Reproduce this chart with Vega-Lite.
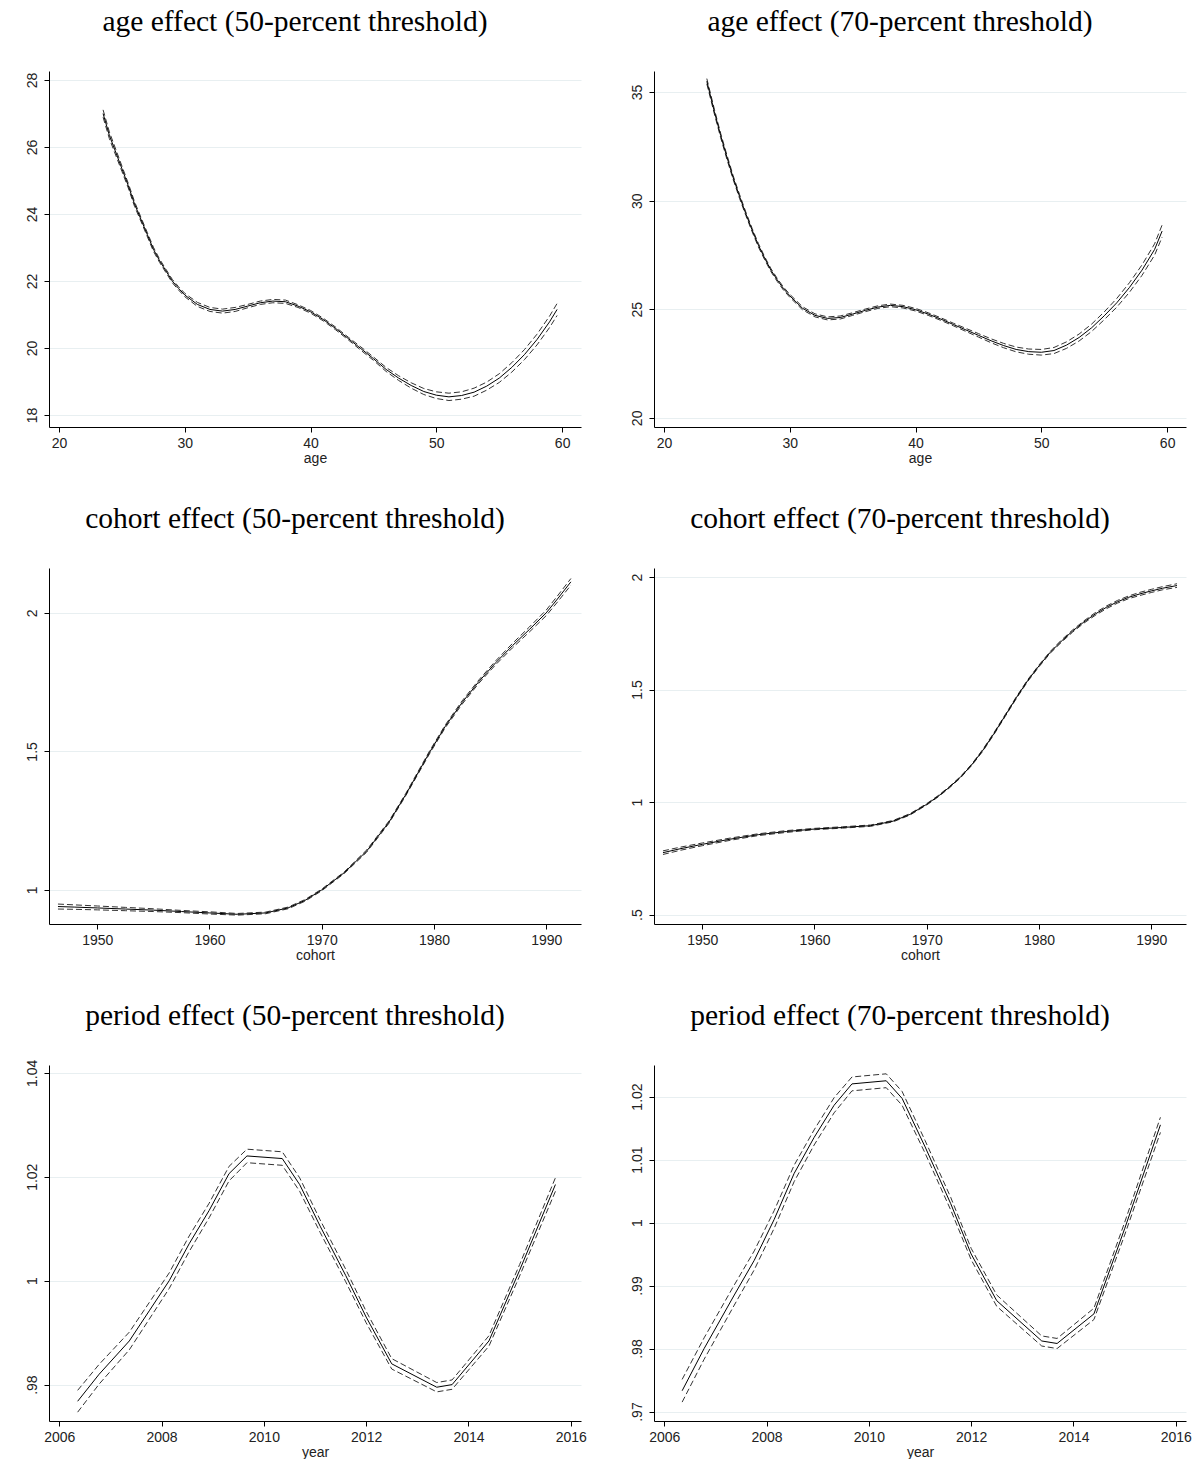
{
  "$schema": "https://vega.github.io/schema/vega-lite/v6.json",
  "background": "white",
  "padding": {"left": 24, "top": 6, "right": 0, "bottom": 0},
  "datasets": {
    "p1": [
      {"x": 23.5, "est": 27.00, "lo": 26.89, "hi": 27.11},
      {"x": 24.0, "est": 26.35, "lo": 26.25, "hi": 26.45},
      {"x": 24.5, "est": 25.85, "lo": 25.76, "hi": 25.94},
      {"x": 25.0, "est": 25.35, "lo": 25.27, "hi": 25.43},
      {"x": 25.5, "est": 24.85, "lo": 24.78, "hi": 24.92},
      {"x": 26.0, "est": 24.30, "lo": 24.23, "hi": 24.37},
      {"x": 26.5, "est": 23.85, "lo": 23.79, "hi": 23.91},
      {"x": 27.0, "est": 23.40, "lo": 23.34, "hi": 23.46},
      {"x": 27.5, "est": 22.95, "lo": 22.89, "hi": 23.01},
      {"x": 28.0, "est": 22.60, "lo": 22.55, "hi": 22.65},
      {"x": 28.5, "est": 22.30, "lo": 22.25, "hi": 22.35},
      {"x": 29.0, "est": 22.00, "lo": 21.95, "hi": 22.05},
      {"x": 29.5, "est": 21.78, "lo": 21.73, "hi": 21.83},
      {"x": 30.0, "est": 21.58, "lo": 21.53, "hi": 21.63},
      {"x": 31.0, "est": 21.30, "lo": 21.24, "hi": 21.36},
      {"x": 32.0, "est": 21.15, "lo": 21.09, "hi": 21.21},
      {"x": 33.0, "est": 21.10, "lo": 21.04, "hi": 21.16},
      {"x": 34.0, "est": 21.15, "lo": 21.09, "hi": 21.21},
      {"x": 35.0, "est": 21.25, "lo": 21.20, "hi": 21.30},
      {"x": 36.0, "est": 21.35, "lo": 21.30, "hi": 21.40},
      {"x": 37.0, "est": 21.40, "lo": 21.35, "hi": 21.45},
      {"x": 38.0, "est": 21.38, "lo": 21.33, "hi": 21.43},
      {"x": 39.0, "est": 21.25, "lo": 21.21, "hi": 21.29},
      {"x": 40.0, "est": 21.08, "lo": 21.04, "hi": 21.12},
      {"x": 41.0, "est": 20.85, "lo": 20.81, "hi": 20.89},
      {"x": 42.0, "est": 20.58, "lo": 20.54, "hi": 20.62},
      {"x": 43.0, "est": 20.28, "lo": 20.24, "hi": 20.32},
      {"x": 44.0, "est": 19.98, "lo": 19.93, "hi": 20.03},
      {"x": 45.0, "est": 19.68, "lo": 19.63, "hi": 19.73},
      {"x": 46.0, "est": 19.36, "lo": 19.30, "hi": 19.42},
      {"x": 47.0, "est": 19.10, "lo": 19.03, "hi": 19.17},
      {"x": 48.0, "est": 18.88, "lo": 18.80, "hi": 18.96},
      {"x": 49.0, "est": 18.70, "lo": 18.61, "hi": 18.79},
      {"x": 50.0, "est": 18.59, "lo": 18.49, "hi": 18.69},
      {"x": 51.0, "est": 18.54, "lo": 18.43, "hi": 18.65},
      {"x": 52.0, "est": 18.58, "lo": 18.47, "hi": 18.69},
      {"x": 53.0, "est": 18.68, "lo": 18.56, "hi": 18.80},
      {"x": 54.0, "est": 18.86, "lo": 18.74, "hi": 18.98},
      {"x": 55.0, "est": 19.10, "lo": 18.97, "hi": 19.23},
      {"x": 56.0, "est": 19.42, "lo": 19.28, "hi": 19.56},
      {"x": 57.0, "est": 19.80, "lo": 19.65, "hi": 19.95},
      {"x": 58.0, "est": 20.25, "lo": 20.09, "hi": 20.41},
      {"x": 59.0, "est": 20.78, "lo": 20.61, "hi": 20.95},
      {"x": 59.6, "est": 21.15, "lo": 20.97, "hi": 21.33}
    ],
    "p2": [
      {"x": 23.4, "est": 35.50, "lo": 35.38, "hi": 35.62},
      {"x": 24.0, "est": 34.10, "lo": 33.99, "hi": 34.21},
      {"x": 24.5, "est": 33.00, "lo": 32.90, "hi": 33.10},
      {"x": 25.0, "est": 32.00, "lo": 31.90, "hi": 32.10},
      {"x": 25.5, "est": 31.05, "lo": 30.96, "hi": 31.14},
      {"x": 26.0, "est": 30.20, "lo": 30.11, "hi": 30.29},
      {"x": 26.5, "est": 29.40, "lo": 29.32, "hi": 29.48},
      {"x": 27.0, "est": 28.65, "lo": 28.57, "hi": 28.73},
      {"x": 27.5, "est": 27.95, "lo": 27.87, "hi": 28.03},
      {"x": 28.0, "est": 27.35, "lo": 27.28, "hi": 27.42},
      {"x": 28.5, "est": 26.80, "lo": 26.73, "hi": 26.87},
      {"x": 29.0, "est": 26.35, "lo": 26.28, "hi": 26.42},
      {"x": 29.5, "est": 25.95, "lo": 25.88, "hi": 26.02},
      {"x": 30.0, "est": 25.62, "lo": 25.55, "hi": 25.69},
      {"x": 31.0, "est": 25.05, "lo": 24.98, "hi": 25.12},
      {"x": 32.0, "est": 24.72, "lo": 24.65, "hi": 24.79},
      {"x": 33.0, "est": 24.58, "lo": 24.51, "hi": 24.65},
      {"x": 34.0, "est": 24.62, "lo": 24.55, "hi": 24.69},
      {"x": 35.0, "est": 24.78, "lo": 24.72, "hi": 24.84},
      {"x": 36.0, "est": 24.95, "lo": 24.89, "hi": 25.01},
      {"x": 37.0, "est": 25.10, "lo": 25.04, "hi": 25.16},
      {"x": 38.0, "est": 25.18, "lo": 25.12, "hi": 25.24},
      {"x": 39.0, "est": 25.12, "lo": 25.06, "hi": 25.18},
      {"x": 40.0, "est": 24.98, "lo": 24.92, "hi": 25.04},
      {"x": 41.0, "est": 24.78, "lo": 24.72, "hi": 24.84},
      {"x": 42.0, "est": 24.55, "lo": 24.49, "hi": 24.61},
      {"x": 43.0, "est": 24.30, "lo": 24.24, "hi": 24.36},
      {"x": 44.0, "est": 24.05, "lo": 23.98, "hi": 24.12},
      {"x": 45.0, "est": 23.80, "lo": 23.72, "hi": 23.88},
      {"x": 46.0, "est": 23.55, "lo": 23.46, "hi": 23.64},
      {"x": 47.0, "est": 23.33, "lo": 23.23, "hi": 23.43},
      {"x": 48.0, "est": 23.15, "lo": 23.04, "hi": 23.26},
      {"x": 49.0, "est": 23.05, "lo": 22.93, "hi": 23.17},
      {"x": 50.0, "est": 23.02, "lo": 22.89, "hi": 23.15},
      {"x": 51.0, "est": 23.10, "lo": 22.96, "hi": 23.24},
      {"x": 52.0, "est": 23.35, "lo": 23.20, "hi": 23.50},
      {"x": 53.0, "est": 23.70, "lo": 23.54, "hi": 23.86},
      {"x": 54.0, "est": 24.15, "lo": 23.98, "hi": 24.32},
      {"x": 55.0, "est": 24.70, "lo": 24.52, "hi": 24.88},
      {"x": 56.0, "est": 25.30, "lo": 25.10, "hi": 25.50},
      {"x": 57.0, "est": 26.00, "lo": 25.78, "hi": 26.22},
      {"x": 58.0, "est": 26.80, "lo": 26.56, "hi": 27.04},
      {"x": 59.0, "est": 27.75, "lo": 27.49, "hi": 28.01},
      {"x": 59.6, "est": 28.60, "lo": 28.32, "hi": 28.88}
    ],
    "p3": [
      {"x": 1946.5, "est": 0.940, "lo": 0.931, "hi": 0.949},
      {"x": 1948.0, "est": 0.938, "lo": 0.930, "hi": 0.946},
      {"x": 1950.0, "est": 0.935, "lo": 0.928, "hi": 0.942},
      {"x": 1952.5, "est": 0.931, "lo": 0.925, "hi": 0.937},
      {"x": 1955.0, "est": 0.927, "lo": 0.922, "hi": 0.932},
      {"x": 1957.5, "est": 0.922, "lo": 0.918, "hi": 0.926},
      {"x": 1960.0, "est": 0.917, "lo": 0.913, "hi": 0.921},
      {"x": 1962.5, "est": 0.912, "lo": 0.909, "hi": 0.915},
      {"x": 1965.0, "est": 0.917, "lo": 0.914, "hi": 0.920},
      {"x": 1967.0, "est": 0.935, "lo": 0.932, "hi": 0.938},
      {"x": 1968.5, "est": 0.962, "lo": 0.959, "hi": 0.965},
      {"x": 1970.0, "est": 1.000, "lo": 0.997, "hi": 1.003},
      {"x": 1972.0, "est": 1.062, "lo": 1.059, "hi": 1.065},
      {"x": 1974.0, "est": 1.140, "lo": 1.136, "hi": 1.144},
      {"x": 1976.0, "est": 1.245, "lo": 1.241, "hi": 1.249},
      {"x": 1977.5, "est": 1.345, "lo": 1.341, "hi": 1.349},
      {"x": 1979.6, "est": 1.496, "lo": 1.491, "hi": 1.501},
      {"x": 1981.0, "est": 1.590, "lo": 1.585, "hi": 1.595},
      {"x": 1982.5, "est": 1.676, "lo": 1.670, "hi": 1.682},
      {"x": 1984.0, "est": 1.752, "lo": 1.746, "hi": 1.758},
      {"x": 1985.5, "est": 1.820, "lo": 1.813, "hi": 1.827},
      {"x": 1987.0, "est": 1.882, "lo": 1.874, "hi": 1.890},
      {"x": 1988.5, "est": 1.940, "lo": 1.931, "hi": 1.949},
      {"x": 1990.0, "est": 2.000, "lo": 1.990, "hi": 2.010},
      {"x": 1991.0, "est": 2.050, "lo": 2.039, "hi": 2.061},
      {"x": 1992.2, "est": 2.112, "lo": 2.100, "hi": 2.124}
    ],
    "p4": [
      {"x": 1946.5, "est": 0.775, "lo": 0.767, "hi": 0.783},
      {"x": 1948.0, "est": 0.792, "lo": 0.785, "hi": 0.799},
      {"x": 1950.0, "est": 0.812, "lo": 0.806, "hi": 0.818},
      {"x": 1952.5, "est": 0.835, "lo": 0.830, "hi": 0.840},
      {"x": 1955.0, "est": 0.855, "lo": 0.851, "hi": 0.859},
      {"x": 1957.5, "est": 0.869, "lo": 0.865, "hi": 0.873},
      {"x": 1960.0, "est": 0.880, "lo": 0.877, "hi": 0.883},
      {"x": 1962.5, "est": 0.887, "lo": 0.884, "hi": 0.890},
      {"x": 1965.0, "est": 0.895, "lo": 0.892, "hi": 0.898},
      {"x": 1967.0, "est": 0.915, "lo": 0.912, "hi": 0.918},
      {"x": 1968.5, "est": 0.945, "lo": 0.942, "hi": 0.948},
      {"x": 1970.0, "est": 0.990, "lo": 0.987, "hi": 0.993},
      {"x": 1971.0, "est": 1.025, "lo": 1.022, "hi": 1.028},
      {"x": 1972.0, "est": 1.065, "lo": 1.062, "hi": 1.068},
      {"x": 1973.0, "est": 1.110, "lo": 1.107, "hi": 1.113},
      {"x": 1974.0, "est": 1.165, "lo": 1.162, "hi": 1.168},
      {"x": 1975.0, "est": 1.230, "lo": 1.226, "hi": 1.234},
      {"x": 1976.0, "est": 1.305, "lo": 1.301, "hi": 1.309},
      {"x": 1977.0, "est": 1.385, "lo": 1.381, "hi": 1.389},
      {"x": 1978.0, "est": 1.465, "lo": 1.461, "hi": 1.469},
      {"x": 1979.0, "est": 1.540, "lo": 1.536, "hi": 1.544},
      {"x": 1980.0, "est": 1.605, "lo": 1.601, "hi": 1.609},
      {"x": 1981.0, "est": 1.665, "lo": 1.661, "hi": 1.669},
      {"x": 1982.0, "est": 1.715, "lo": 1.710, "hi": 1.720},
      {"x": 1983.0, "est": 1.760, "lo": 1.755, "hi": 1.765},
      {"x": 1984.0, "est": 1.800, "lo": 1.795, "hi": 1.805},
      {"x": 1985.0, "est": 1.835, "lo": 1.829, "hi": 1.841},
      {"x": 1986.0, "est": 1.865, "lo": 1.859, "hi": 1.871},
      {"x": 1987.0, "est": 1.890, "lo": 1.884, "hi": 1.896},
      {"x": 1988.0, "est": 1.910, "lo": 1.904, "hi": 1.916},
      {"x": 1989.0, "est": 1.925, "lo": 1.918, "hi": 1.932},
      {"x": 1990.0, "est": 1.938, "lo": 1.931, "hi": 1.945},
      {"x": 1991.0, "est": 1.950, "lo": 1.943, "hi": 1.957},
      {"x": 1992.3, "est": 1.962, "lo": 1.954, "hi": 1.970}
    ],
    "p5": [
      {"x": 2006.36, "est": 0.9768, "lo": 0.9747, "hi": 0.9789},
      {"x": 2006.78, "est": 0.9820, "lo": 0.9801, "hi": 0.9839},
      {"x": 2007.37, "est": 0.9884, "lo": 0.9867, "hi": 0.9901},
      {"x": 2007.76, "est": 0.9942, "lo": 0.9926, "hi": 0.9958},
      {"x": 2008.15, "est": 1.0000, "lo": 0.9985, "hi": 1.0015},
      {"x": 2008.54, "est": 1.0071, "lo": 1.0056, "hi": 1.0086},
      {"x": 2008.93, "est": 1.0135, "lo": 1.0121, "hi": 1.0149},
      {"x": 2009.32, "est": 1.0206, "lo": 1.0192, "hi": 1.0220},
      {"x": 2009.67, "est": 1.0240, "lo": 1.0227, "hi": 1.0253},
      {"x": 2010.36, "est": 1.0235, "lo": 1.0222, "hi": 1.0248},
      {"x": 2010.70, "est": 1.0185, "lo": 1.0172, "hi": 1.0198},
      {"x": 2011.10, "est": 1.0105, "lo": 1.0093, "hi": 1.0117},
      {"x": 2011.60, "est": 1.0010, "lo": 0.9998, "hi": 1.0022},
      {"x": 2012.00, "est": 0.9930, "lo": 0.9919, "hi": 0.9941},
      {"x": 2012.50, "est": 0.9840, "lo": 0.9830, "hi": 0.9850},
      {"x": 2013.38, "est": 0.9795, "lo": 0.9786, "hi": 0.9804},
      {"x": 2013.68, "est": 0.9800, "lo": 0.9791, "hi": 0.9809},
      {"x": 2014.40, "est": 0.9884, "lo": 0.9874, "hi": 0.9894},
      {"x": 2015.00, "est": 1.0020, "lo": 1.0009, "hi": 1.0031},
      {"x": 2015.70, "est": 1.0185, "lo": 1.0172, "hi": 1.0198}
    ],
    "p6": [
      {"x": 2006.35, "est": 0.9733, "lo": 0.9715, "hi": 0.9751},
      {"x": 2006.78, "est": 0.9800, "lo": 0.9783, "hi": 0.9817},
      {"x": 2007.37, "est": 0.9885, "lo": 0.9869, "hi": 0.9901},
      {"x": 2007.76, "est": 0.9940, "lo": 0.9925, "hi": 0.9955},
      {"x": 2008.15, "est": 1.0005, "lo": 0.9991, "hi": 1.0019},
      {"x": 2008.54, "est": 1.0078, "lo": 1.0065, "hi": 1.0091},
      {"x": 2008.93, "est": 1.0135, "lo": 1.0123, "hi": 1.0147},
      {"x": 2009.32, "est": 1.0186, "lo": 1.0174, "hi": 1.0198},
      {"x": 2009.67, "est": 1.0220, "lo": 1.0209, "hi": 1.0231},
      {"x": 2010.34, "est": 1.0225, "lo": 1.0214, "hi": 1.0236},
      {"x": 2010.65, "est": 1.0197, "lo": 1.0186, "hi": 1.0208},
      {"x": 2011.10, "est": 1.0120, "lo": 1.0110, "hi": 1.0130},
      {"x": 2011.60, "est": 1.0030, "lo": 1.0020, "hi": 1.0040},
      {"x": 2012.00, "est": 0.9950, "lo": 0.9941, "hi": 0.9959},
      {"x": 2012.50, "est": 0.9876, "lo": 0.9867, "hi": 0.9885},
      {"x": 2013.38, "est": 0.9812, "lo": 0.9804, "hi": 0.9820},
      {"x": 2013.68, "est": 0.9808, "lo": 0.9800, "hi": 0.9816},
      {"x": 2014.40, "est": 0.9855, "lo": 0.9846, "hi": 0.9864},
      {"x": 2015.00, "est": 0.9990, "lo": 0.9980, "hi": 1.0000},
      {"x": 2015.70, "est": 1.0155, "lo": 1.0143, "hi": 1.0167}
    ]
  },
  "columns": 2,
  "spacing": {"row": 141, "column": 73},
  "bounds": "flush",
  "concat": [
    {
      "title": {"text": "age effect (50-percent threshold)"},
      "width": 532, "height": 356,
      "data": {"name": "p1"},
      "encoding": {"x": {"field": "x", "type": "quantitative", "scale": {"domain": [19.2, 61.5], "nice": false, "zero": false}, "axis": {"values": [20, 30, 40, 50, 60], "title": "age"}}},
      "layer": [
        {"mark": {"type": "line", "color": "#333", "strokeWidth": 1, "strokeDash": [6, 3]}, "encoding": {"y": {"field": "lo", "type": "quantitative", "scale": {"domain": [17.64, 28.27], "nice": false, "zero": false}, "axis": {"values": [18, 20, 22, 24, 26, 28], "title": null}}}},
        {"mark": {"type": "line", "color": "#333", "strokeWidth": 1, "strokeDash": [6, 3]}, "encoding": {"y": {"field": "hi", "type": "quantitative", "scale": {"domain": [17.64, 28.27], "nice": false, "zero": false}}}},
        {"mark": {"type": "line", "color": "black", "strokeWidth": 1}, "encoding": {"y": {"field": "est", "type": "quantitative", "scale": {"domain": [17.64, 28.27], "nice": false, "zero": false}}}}
      ]
    },
    {
      "title": {"text": "age effect (70-percent threshold)"},
      "width": 532, "height": 356,
      "data": {"name": "p2"},
      "encoding": {"x": {"field": "x", "type": "quantitative", "scale": {"domain": [19.2, 61.5], "nice": false, "zero": false}, "axis": {"values": [20, 30, 40, 50, 60], "title": "age"}}},
      "layer": [
        {"mark": {"type": "line", "color": "#333", "strokeWidth": 1, "strokeDash": [6, 3]}, "encoding": {"y": {"field": "lo", "type": "quantitative", "scale": {"domain": [19.58, 35.97], "nice": false, "zero": false}, "axis": {"values": [20, 25, 30, 35], "title": null}}}},
        {"mark": {"type": "line", "color": "#333", "strokeWidth": 1, "strokeDash": [6, 3]}, "encoding": {"y": {"field": "hi", "type": "quantitative", "scale": {"domain": [19.58, 35.97], "nice": false, "zero": false}}}},
        {"mark": {"type": "line", "color": "black", "strokeWidth": 1}, "encoding": {"y": {"field": "est", "type": "quantitative", "scale": {"domain": [19.58, 35.97], "nice": false, "zero": false}}}}
      ]
    },
    {
      "title": {"text": "cohort effect (50-percent threshold)"},
      "width": 532, "height": 356,
      "data": {"name": "p3"},
      "encoding": {"x": {"field": "x", "type": "quantitative", "scale": {"domain": [1945.7, 1993.1], "nice": false, "zero": false}, "axis": {"values": [1950, 1960, 1970, 1980, 1990], "format": "d", "title": "cohort"}}},
      "layer": [
        {"mark": {"type": "line", "color": "#333", "strokeWidth": 1, "strokeDash": [6, 3]}, "encoding": {"y": {"field": "lo", "type": "quantitative", "scale": {"domain": [0.877, 2.162], "nice": false, "zero": false}, "axis": {"values": [1, 1.5, 2], "title": null, "labelExpr": "datum.value < 1 ? slice(format(datum.value, '.2~f'), 1) : format(datum.value, '~g')"}}}},
        {"mark": {"type": "line", "color": "#333", "strokeWidth": 1, "strokeDash": [6, 3]}, "encoding": {"y": {"field": "hi", "type": "quantitative", "scale": {"domain": [0.877, 2.162], "nice": false, "zero": false}}}},
        {"mark": {"type": "line", "color": "black", "strokeWidth": 1}, "encoding": {"y": {"field": "est", "type": "quantitative", "scale": {"domain": [0.877, 2.162], "nice": false, "zero": false}}}}
      ]
    },
    {
      "title": {"text": "cohort effect (70-percent threshold)"},
      "width": 532, "height": 356,
      "data": {"name": "p4"},
      "encoding": {"x": {"field": "x", "type": "quantitative", "scale": {"domain": [1945.7, 1993.1], "nice": false, "zero": false}, "axis": {"values": [1950, 1960, 1970, 1980, 1990], "format": "d", "title": "cohort"}}},
      "layer": [
        {"mark": {"type": "line", "color": "#333", "strokeWidth": 1, "strokeDash": [6, 3]}, "encoding": {"y": {"field": "lo", "type": "quantitative", "scale": {"domain": [0.458, 2.04], "nice": false, "zero": false}, "axis": {"values": [0.5, 1, 1.5, 2], "title": null, "labelExpr": "datum.value < 1 ? slice(format(datum.value, '.2~f'), 1) : format(datum.value, '~g')"}}}},
        {"mark": {"type": "line", "color": "#333", "strokeWidth": 1, "strokeDash": [6, 3]}, "encoding": {"y": {"field": "hi", "type": "quantitative", "scale": {"domain": [0.458, 2.04], "nice": false, "zero": false}}}},
        {"mark": {"type": "line", "color": "black", "strokeWidth": 1}, "encoding": {"y": {"field": "est", "type": "quantitative", "scale": {"domain": [0.458, 2.04], "nice": false, "zero": false}}}}
      ]
    },
    {
      "title": {"text": "period effect (50-percent threshold)", "offset": 28},
      "width": 532, "height": 356,
      "data": {"name": "p5"},
      "encoding": {"x": {"field": "x", "type": "quantitative", "scale": {"domain": [2005.8, 2016.2], "nice": false, "zero": false}, "axis": {"values": [2006, 2008, 2010, 2012, 2014, 2016], "format": "d", "title": "year"}}},
      "layer": [
        {"mark": {"type": "line", "color": "#333", "strokeWidth": 1, "strokeDash": [6, 3]}, "encoding": {"y": {"field": "lo", "type": "quantitative", "scale": {"domain": [0.973, 1.0415], "nice": false, "zero": false}, "axis": {"values": [0.98, 1, 1.02, 1.04], "title": null, "labelExpr": "datum.value < 1 ? slice(format(datum.value, '.2~f'), 1) : format(datum.value, '~g')"}}}},
        {"mark": {"type": "line", "color": "#333", "strokeWidth": 1, "strokeDash": [6, 3]}, "encoding": {"y": {"field": "hi", "type": "quantitative", "scale": {"domain": [0.973, 1.0415], "nice": false, "zero": false}}}},
        {"mark": {"type": "line", "color": "black", "strokeWidth": 1}, "encoding": {"y": {"field": "est", "type": "quantitative", "scale": {"domain": [0.973, 1.0415], "nice": false, "zero": false}}}}
      ]
    },
    {
      "title": {"text": "period effect (70-percent threshold)"},
      "width": 532, "height": 356,
      "data": {"name": "p6"},
      "encoding": {"x": {"field": "x", "type": "quantitative", "scale": {"domain": [2005.8, 2016.2], "nice": false, "zero": false}, "axis": {"values": [2006, 2008, 2010, 2012, 2014, 2016], "format": "d", "title": "year"}}},
      "layer": [
        {"mark": {"type": "line", "color": "#333", "strokeWidth": 1, "strokeDash": [6, 3]}, "encoding": {"y": {"field": "lo", "type": "quantitative", "scale": {"domain": [0.9685, 1.025], "nice": false, "zero": false}, "axis": {"values": [0.97, 0.98, 0.99, 1, 1.01, 1.02], "title": null, "labelExpr": "datum.value < 1 ? slice(format(datum.value, '.2~f'), 1) : format(datum.value, '~g')"}}}},
        {"mark": {"type": "line", "color": "#333", "strokeWidth": 1, "strokeDash": [6, 3]}, "encoding": {"y": {"field": "hi", "type": "quantitative", "scale": {"domain": [0.9685, 1.025], "nice": false, "zero": false}}}},
        {"mark": {"type": "line", "color": "black", "strokeWidth": 1}, "encoding": {"y": {"field": "est", "type": "quantitative", "scale": {"domain": [0.9685, 1.025], "nice": false, "zero": false}}}}
      ]
    }
  ],
  "config": {
    "view": {"stroke": null},
    "title": {"font": "Liberation Serif", "fontSize": 29.5, "fontWeight": "normal", "color": "black", "anchor": "middle", "baseline": "alphabetic", "offset": 34, "dx": -20},
    "axis": {"domainColor": "black", "domainWidth": 1, "tickColor": "black", "tickSize": 5, "labelFont": "Liberation Sans", "labelFontSize": 14, "labelColor": "#222", "titleFont": "Liberation Sans", "titleFontSize": 14, "titleFontWeight": "normal", "titleColor": "#222", "gridColor": "#e8eff1", "gridWidth": 1},
    "axisX": {"grid": false, "labelPadding": 4, "titlePadding": 1},
    "axisY": {"grid": true, "labelAngle": -90, "labelAlign": "center", "labelBaseline": "bottom", "labelPadding": 5}
  }
}
